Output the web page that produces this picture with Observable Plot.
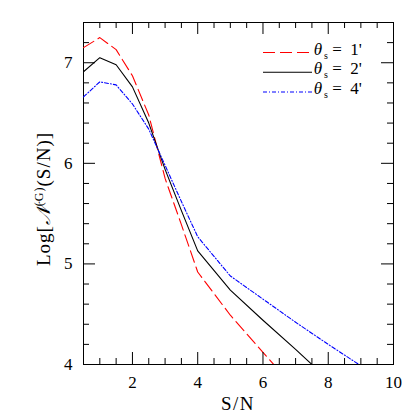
<!DOCTYPE html>
<html><head><meta charset="utf-8">
<script src="https://cdn.jsdelivr.net/npm/d3@7"></script>
<script src="https://cdn.jsdelivr.net/npm/@observablehq/plot@0.6"></script>
<style>body{margin:0;background:#fff}</style>
</head><body><div id="chart"></div>
<script>
// ---- data ----
const redX   = [0.5, 1, 1.5, 2, 2.5, 3, 3.5, 4, 5, 6, 6.33];
const redY   = [7.15, 7.25, 7.13, 6.87, 6.48, 5.85, 5.39, 4.92, 4.49, 4.12, 4.0];
const blackX = [0.5, 1, 1.5, 2, 2.5, 3, 3.5, 4, 5, 6, 7, 7.5];
const blackY = [6.91, 7.05, 6.98, 6.76, 6.40, 5.94, 5.53, 5.13, 4.74, 4.44, 4.15, 4.0];
const blueX  = [0.5, 1, 1.5, 2, 2.5, 3, 3.5, 4, 5, 6, 7, 8, 8.94];
const blueY  = [6.66, 6.81, 6.78, 6.59, 6.34, 5.98, 5.62, 5.27, 4.88, 4.65, 4.42, 4.2, 4.0];
const seriesNames = ["1'", "2'", "4'"];
const seriesColors = ["#ff0000", "#000000", "#0000ff"];
const seriesDash = ["12,5", null, "4,2,1,2"];

const xMajor = [2, 4, 6, 8, 10];
const xMinor = [1, 1.5, 2.5, 3, 3.5, 4.5, 5, 5.5, 6.5, 7, 7.5, 8.5, 9, 9.5];
const yMajor = [4, 5, 6, 7];
const yMinor = [4.2, 4.4, 4.6, 4.8, 5.2, 5.4, 5.6, 5.8, 6.2, 6.4, 6.6, 6.8, 7.2, 7.4];

const xDomain = [0.5, 10];
const yDomain = [4, 7.4];

const toRows = (xs, ys) => xs.map((x, i) => ({x, y: ys[i]}));
const series = [toRows(redX, redY), toRows(blackX, blackY), toRows(blueX, blueY)];

const font = "'Times New Roman', 'Liberation Serif', 'DejaVu Serif', serif";
const W = 415, H = 415, ML = 83, MR = 22, MT = 22, MB = 51;
const plotW = W - ML - MR, plotH = H - MT - MB;
const MAJ = 12, MIN = 6;
// tick lengths converted to data units of each axis
const lenX = px => px * (xDomain[1] - xDomain[0]) / plotW;
const lenY = px => px * (yDomain[1] - yDomain[0]) / plotH;

const ticksX = (ticks, len) => [
  Plot.ruleX(ticks, {x: d => d, y1: yDomain[0], y2: yDomain[0] + lenY(len), stroke: "black", strokeWidth: 1}),
  Plot.ruleX(ticks, {x: d => d, y1: yDomain[1] - lenY(len), y2: yDomain[1], stroke: "black", strokeWidth: 1})
];
const ticksY = (ticks, len) => [
  Plot.ruleY(ticks, {y: d => d, x1: xDomain[0], x2: xDomain[0] + lenX(len), stroke: "black", strokeWidth: 1}),
  Plot.ruleY(ticks, {y: d => d, x1: xDomain[1] - lenX(len), x2: xDomain[1], stroke: "black", strokeWidth: 1})
];

const chart = Plot.plot({
  width: W, height: H,
  marginLeft: ML, marginRight: MR, marginTop: MT, marginBottom: MB,
  style: {fontFamily: font, fontSize: "17px", background: "white", color: "black"},
  x: {domain: xDomain},
  y: {domain: yDomain},
  marks: [
    Plot.frame({stroke: "black", strokeWidth: 1, fill: "none"}),
    ...series.map((d, i) => Plot.line(d, {x: "x", y: "y", stroke: seriesColors[i], strokeWidth: 1.1, strokeDasharray: seriesDash[i], clip: true})),
    ...ticksX(xMajor, MAJ), ...ticksX(xMinor, MIN),
    ...ticksY(yMajor, MAJ), ...ticksY(yMinor, MIN),
    Plot.axisX(xMajor, {anchor: "bottom", tickSize: 0, tickPadding: 11, tickFormat: d => String(d), label: null, fontSize: 17}),
    Plot.axisY(yMajor, {anchor: "left", tickSize: 0, tickPadding: 11, tickFormat: d => String(d), label: null, fontSize: 17})
  ]
});

document.getElementById("chart").append(chart);
const svg = d3.select(chart);

// x axis title
svg.append("text")
  .attr("x", 238).attr("y", 410)
  .attr("text-anchor", "middle")
  .attr("font-family", font).attr("font-size", 19)
  .attr("letter-spacing", 1.5)
  .text("S/N");

// y axis title
const yl = svg.append("text")
  .attr("transform", "translate(50,199) rotate(-90)")
  .attr("text-anchor", "middle")
  .attr("font-family", font).attr("font-size", 19)
  .attr("letter-spacing", 1);
yl.append("tspan").text("Log[");
yl.append("tspan").attr("font-style", "italic").text("\u{1D4A9}");
yl.append("tspan").attr("font-size", 12).attr("dy", -7).text("(G)");
yl.append("tspan").attr("dy", 7).text("(S/N)]");

// legend
const rowY = [52.5, 72.3, 92];
const lg = svg.append("g").attr("font-family", font).attr("font-size", 17);
seriesNames.forEach((name, i) => {
  const y = rowY[i];
  lg.append("line")
    .attr("x1", 263).attr("x2", 312).attr("y1", y).attr("y2", y)
    .attr("stroke", seriesColors[i]).attr("stroke-width", 1.1)
    .attr("stroke-dasharray", seriesDash[i]);
  const t = lg.append("text").attr("y", y + 2);
  t.append("tspan").attr("x", 318).attr("font-style", "italic").text("θ");
  t.append("tspan").attr("x", 326).attr("dy", 4).attr("font-size", 10).text("s");
  t.append("tspan").attr("x", 337).attr("dy", -4).text("=");
  t.append("tspan").attr("x", 356).text(name);
});
</script>
</body></html>
